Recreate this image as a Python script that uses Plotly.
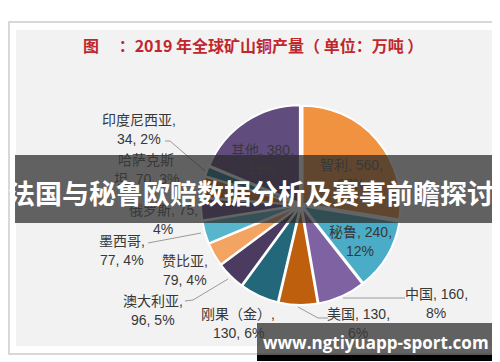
import plotly.graph_objects as go

# ---- data ----
countries = ["智利", "秘鲁", "中国", "美国", "刚果（金）", "澳大利亚", "赞比亚",
             "墨西哥", "俄罗斯", "哈萨克斯坦", "印度尼西亚", "其他"]
output_wt = [560, 240, 160, 130, 130, 96, 79, 77, 75, 70, 34, 380]
pct_label = [27, 12, 8, 6, 6, 5, 4, 4, 4, 3, 2, 19]
colors = ["#F0923F", "#4AACC6", "#7F62A1", "#BE5F0E", "#22677A", "#4B3B61",
          "#F4A462", "#58B6CC", "#64508A", "#D9751C", "#2A7E8F", "#604C7D"]

title_text = "图\u3000 ：2019 年全球矿山铜产量（ 单位：万吨 ）"
banner_text = "法国与秘鲁欧赔数据分析及赛事前瞻探讨"
watermark_text = "www.ngtiyuapp-sport.com"

W, H = 500, 362

fig = go.Figure()

# invisible pixel axis for overlay placement
fig.add_trace(go.Scatter(x=[0, W], y=[0, H], mode="markers",
                         marker=dict(opacity=0), hoverinfo="skip", showlegend=False))

fig.add_trace(go.Pie(
    labels=countries, values=output_wt, sort=False, direction="clockwise",
    rotation=0, textinfo="none", hoverinfo="label+value+percent",
    marker=dict(colors=colors, line=dict(color="white", width=2)),
    pull=[0.02] * len(countries),
    domain=dict(x=[0.386, 0.786], y=[(H - 297) / H, (H - 97) / H]),
    showlegend=False,
))

# ---- label layout (positions only) ----
label_layout = {
    "智利": (343, 157, "a"),
    "秘鲁": (352, 224, "a"),
    "中国": (428, 286, "a"),
    "美国": (350, 306, "a"),
    "刚果（金）": (230, 306, "b"),
    "澳大利亚": (145, 293, "b"),
    "赞比亚": (177, 253, "b"),
    "墨西哥": (114, 233, "b"),
    "俄罗斯": (155, 202, "a"),
    "哈萨克斯坦": (138, 152, "k"),
    "印度尼西亚": (131, 112, "b"),
    "其他": (254, 142, "a"),
}

annotations = []
lab_font = dict(family="Liberation Sans, Noto Sans CJK SC, sans-serif", size=14, color="#383838")
for name, v, p in zip(countries, output_wt, pct_label):
    cx, cy, fmt = label_layout[name]
    if fmt == "a":
        l1, l2 = f"{name}, {v},", f"{p}%"
    elif fmt == "b":
        l1, l2 = f"{name},", f"{v}, {p}%"
    else:
        l1, l2 = name[:-1], f"{name[-1]}, {v}, {p}%"
    annotations.append(dict(x=cx, y=cy, xref="x", yref="y", text=l1, showarrow=False,
                            font=lab_font, xanchor="center", yanchor="middle"))
    annotations.append(dict(x=cx, y=cy + 18.5, xref="x", yref="y", text=l2, showarrow=False,
                            font=lab_font, xanchor="center", yanchor="middle"))

annotations.append(dict(x=245, y=37, xref="x", yref="y", text="<b>" + title_text + "</b>",
                        showarrow=False, xanchor="center", yanchor="middle",
                        font=dict(family="Noto Sans CJK SC, sans-serif", size=16, color="#C0272D")))
annotations.append(dict(x=243, y=184, xref="x", yref="y", text="<b>" + banner_text + "</b>",
                        showarrow=False, xanchor="center", yanchor="middle",
                        font=dict(family="Noto Sans CJK SC, sans-serif", size=27, color="white")))
annotations.append(dict(x=368, y=334, xref="x", yref="y", text="<b>" + watermark_text + "</b>",
                        showarrow=False, xanchor="center", yanchor="middle",
                        font=dict(family="Open Sans, sans-serif", size=17, color="white")))

lead = dict(color="#9a9a9a", width=1)
shapes = [
    dict(type="rect", x0=1, y0=14, x1=498, y1=346, xref="x", yref="y", layer="below",
         line=dict(color="#CCCCCC", width=1.5), fillcolor="white"),
    dict(type="rect", x0=8, y0=22, x1=492, y1=338, xref="x", yref="y", layer="below",
         line=dict(width=0), fillcolor="#F2F2F2"),
    dict(type="path", path="M157,133 L162,133 L197,163", xref="x", yref="y", line=lead, layer="above"),
    dict(type="path", path="M177,293 L185,292 L220,271", xref="x", yref="y", line=lead, layer="above"),
    dict(type="path", path="M140,235 L193,225", xref="x", yref="y", line=lead, layer="above"),
    dict(type="path", path="M335,290 L397,290", xref="x", yref="y", line=lead, layer="above"),
    dict(type="path", path="M290,299 L310,310 L320,310", xref="x", yref="y", line=lead, layer="above"),
    # banner
    dict(type="rect", x0=7, y0=147, x1=493, y1=215, xref="x", yref="y", layer="above",
         line=dict(width=0), fillcolor="rgba(40,40,40,0.72)"),
    # watermark box
    dict(type="rect", x0=249, y0=315, x1=491, y1=347, xref="x", yref="y", layer="above",
         line=dict(width=0), fillcolor="rgba(40,40,40,0.72)"),
    dict(type="rect", x0=249, y0=347, x1=491, y1=353, xref="x", yref="y", layer="above",
         line=dict(width=0), fillcolor="black"),
]

fig.update_layout(
    width=W, height=H, margin=dict(l=0, r=0, t=0, b=0),
    paper_bgcolor="white", plot_bgcolor="rgba(0,0,0,0)",
    xaxis=dict(range=[0, W], visible=False, fixedrange=True, domain=[0, 1]),
    yaxis=dict(range=[H, 0], visible=False, fixedrange=True, domain=[0, 1]),
    shapes=shapes, annotations=annotations, showlegend=False,
)

fig.write_html("out.html")
